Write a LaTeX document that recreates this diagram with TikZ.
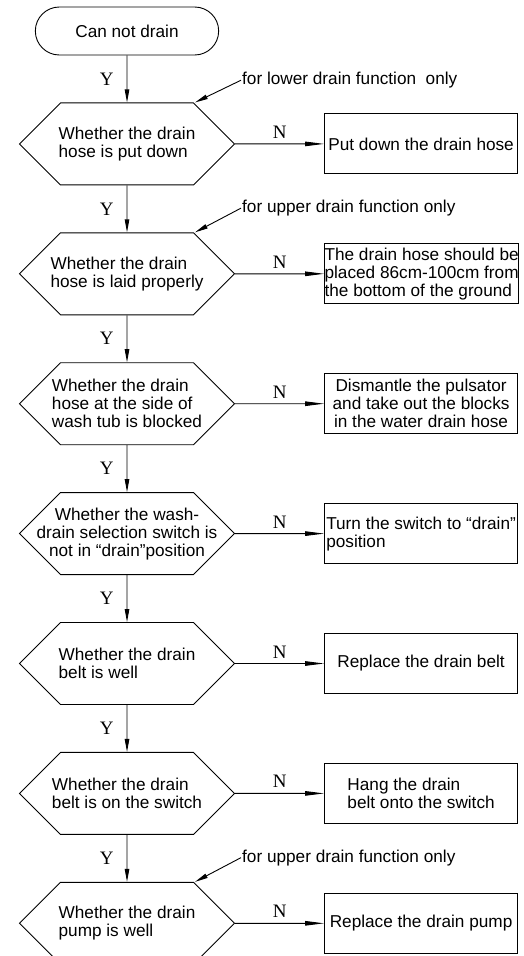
\documentclass[tikz,border=0pt]{standalone}
\usepackage{fontspec}
\setmainfont{Liberation Sans}
\newfontfamily\ynfont{Liberation Serif}
\usepackage{tikz}
\usetikzlibrary{positioning, arrows.meta, shapes.symbols, shapes.misc, calc}
\newcommand{\chartfont}{\fontsize{17.2}{18}\selectfont}
\tikzstyle{terminal} = [rounded rectangle, draw, line width=0.9pt, minimum width=190pt, minimum height=48pt, font=\chartfont]
\tikzstyle{decision} = [signal, signal to=west and east, signal pointer angle=90, draw, line width=0.9pt, minimum width=215pt, minimum height=82pt, inner xsep=-40pt, inner ysep=0pt, align=left, font=\chartfont]
\tikzstyle{action} = [rectangle, draw, line width=0.9pt, minimum width=193pt, minimum height=60pt, inner xsep=0pt, align=left, font=\chartfont]
\tikzstyle{note} = [inner sep=1pt, font=\chartfont]
\tikzstyle{answer} = [inner sep=1pt, font=\ynfont\fontsize{19}{19}\selectfont]
\tikzstyle{arrow} = [line width=0.9pt, -{Triangle[length=13pt, width=4.5pt]}]
\tikzstyle{noarrow} = [line width=0.9pt, -{Triangle[length=19pt, width=4.5pt]}]

\begin{document}
\begin{tikzpicture}
  \useasboundingbox (0,0) rectangle (524pt,-956pt);

  % Start
  \node (start) [terminal] at (127pt,-31pt) {Can not drain};

  % Checks (left column)
  \node (check1) [decision, below=47pt of start] {Whether the drain\\hose is put down};
  \node (check2) [decision, below=47pt of check1] {Whether the drain\\hose is laid properly};
  \node (check3) [decision, below=47pt of check2] {Whether the drain\\hose at the side of\\wash tub is blocked};
  \node (check4) [decision, below=47pt of check3, align=center] {Whether the wash-\\drain selection switch is\\not in “drain”position};
  \node (check5) [decision, below=47pt of check4] {Whether the drain\\belt is well};
  \node (check6) [decision, below=47pt of check5] {Whether the drain\\belt is on the switch};
  \node (check7) [decision, below=47pt of check6] {Whether the drain\\pump is well};

  % Fixes (right column)
  \node (fix1) [action, right=89pt of check1] {Put down the drain hose};
  \node (fix2) [action, right=89pt of check2] {The drain hose should be\\placed 86cm-100cm from\\the bottom of the ground};
  \node (fix3) [action, right=89pt of check3, align=center] {Dismantle the pulsator\\and take out the blocks\\in the water drain hose};
  \node (fix4) [action, right=89pt of check4] {Turn the switch to “drain”\\position};
  \node (fix5) [action, right=89pt of check5] {Replace the drain belt};
  \node (fix6) [action, right=89pt of check6] {Hang the drain\\belt onto the switch};
  \node (fix7) [action, right=89pt of check7] {Replace the drain pump};

  % Notes
  \node (note1) [note, above right=13pt and 114pt of check1.north] {for lower drain function\ \ only};
  \node (note2) [note, above right=15pt and 114pt of check2.north] {for upper drain function only};
  \node (note3) [note, above right=15pt and 114pt of check7.north] {for upper drain function only};
  \coordinate (corner1) at ($(check1.north)+(68pt,0)$);
  \coordinate (corner2) at ($(check2.north)+(68pt,0)$);
  \coordinate (corner7) at ($(check7.north)+(68pt,0)$);

  % Arrows - main flow
  \draw[arrow] (start) -- node[answer, midway, left=12pt] {Y} (check1);
  \draw[arrow] (check1) -- node[answer, midway, left=12pt] {Y} (check2);
  \draw[arrow] (check2) -- node[answer, midway, left=12pt] {Y} (check3);
  \draw[arrow] (check3) -- node[answer, midway, left=12pt] {Y} (check4);
  \draw[arrow] (check4) -- node[answer, midway, left=12pt] {Y} (check5);
  \draw[arrow] (check5) -- node[answer, midway, left=12pt] {Y} (check6);
  \draw[arrow] (check6) -- node[answer, midway, left=12pt] {Y} (check7);

  % Arrows - to the fixes
  \draw[noarrow] (check1) -- node[answer, midway, above=4pt] {N} (fix1);
  \draw[noarrow] (check2) -- node[answer, midway, above=4pt] {N} (fix2);
  \draw[noarrow] (check3) -- node[answer, midway, above=4pt] {N} (fix3);
  \draw[noarrow] (check4) -- node[answer, midway, above=4pt] {N} (fix4);
  \draw[noarrow] (check5) -- node[answer, midway, above=4pt] {N} (fix5);
  \draw[noarrow] (check6) -- node[answer, midway, above=4pt] {N} (fix6);
  \draw[noarrow] (check7) -- node[answer, midway, above=4pt] {N} (fix7);

  % Note pointers
  \draw[arrow] (note1.west) -- (corner1);
  \draw[arrow] (note2.west) -- (corner2);
  \draw[arrow] (note3.west) -- (corner7);

\end{tikzpicture}
\end{document}
